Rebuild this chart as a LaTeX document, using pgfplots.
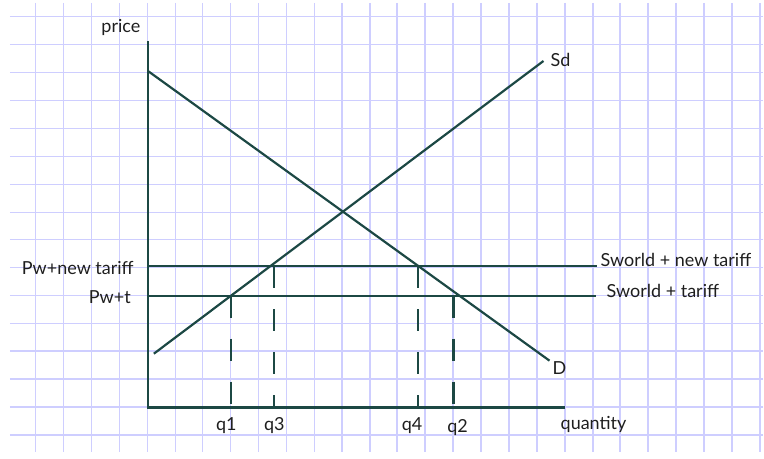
\documentclass[border=0pt]{standalone}
\usepackage{pgfplots}
\pgfplotsset{compat=1.18}
\usepackage{fontspec}
\setmainfont{Lato}
\definecolor{gridc}{RGB}{206,206,255}
\definecolor{linec}{RGB}{28,72,68}
\definecolor{txt}{RGB}{30,30,30}
\tikzset{lab/.style={inner sep=0pt, text=txt, font=\fontsize{18}{21}\selectfont}}
\begin{document}
\begin{tikzpicture}
\begin{axis}[
  scale only axis, width=754pt, height=449pt,
  xmin=10, xmax=764, ymin=3, ymax=452, y dir=reverse,
  axis line style={draw=none},
  xtick={35.5,63.5,91.5,119.5,147.5,175.5,202.5,230.5,258.5,286.5,314.5,342.5,370.5,397.5,425.5,453.5,481.5,509.5,537.5,565.5,593.5,620.5,648.5,676.5,704.5,732.5,760.5},
  ytick={16.5,44.5,72.5,100.5,128.5,156.5,184.5,212.5,239.5,267.5,295.5,323.5,351.5,379.5,407.5,435.5},
  xticklabels={}, yticklabels={},
  major tick length=0pt,
  grid=major, major grid style={gridc, line width=1.4pt},
  clip=false,
]
\path (axis cs:0,0) rectangle (axis cs:764,452);
% axes
\addplot[linec, line width=2.4pt, line cap=butt, line join=miter] coordinates {(148,41) (148,408) (566,408)};
% demand D
\addplot[linec, line width=2.2pt] coordinates {(148,71) (550,361)};
% supply Sd
\addplot[linec, line width=2.2pt] coordinates {(154,354) (544,61)};
% price lines
\addplot[linec, line width=2.2pt] coordinates {(148,266.5) (598,266.5)};
\addplot[linec, line width=2.2pt] coordinates {(148,296) (597,296)};
% dashed quantity lines
\addplot[linec, line width=2.2pt, dash pattern=on 22pt off 21pt] coordinates {(231.5,296) (231.5,408)};
\addplot[linec, line width=2.2pt, dash pattern=on 22pt off 21pt] coordinates {(274.5,266.5) (274.5,408)};
\addplot[linec, line width=2.2pt, dash pattern=on 22pt off 21pt] coordinates {(418.5,266.5) (418.5,408)};
\addplot[linec, line width=2.2pt, dash pattern=on 22pt off 21pt] coordinates {(454,296) (454,408)};
% labels
\node[lab, anchor=center] at (axis cs:121,28) {price};
\node[lab, anchor=west] at (axis cs:551,60) {Sd};
\node[lab, anchor=east] at (axis cs:134,268) {Pw+new tariff};
\node[lab, anchor=east] at (axis cs:131,297) {Pw+t};
\node[lab, anchor=west] at (axis cs:601,260) {Sworld + new tariff};
\node[lab, anchor=west] at (axis cs:607,291) {Sworld + tariff};
\node[lab, anchor=west] at (axis cs:553,368) {D};
\node[lab, anchor=west] at (axis cs:561,425) {quantity};
\node[lab, anchor=center] at (axis cs:226.5,426) {q1};
\node[lab, anchor=center] at (axis cs:274.5,426) {q3};
\node[lab, anchor=center] at (axis cs:412.5,426) {q4};
\node[lab, anchor=center] at (axis cs:458,428) {q2};
\end{axis}
\end{tikzpicture}
\end{document}
